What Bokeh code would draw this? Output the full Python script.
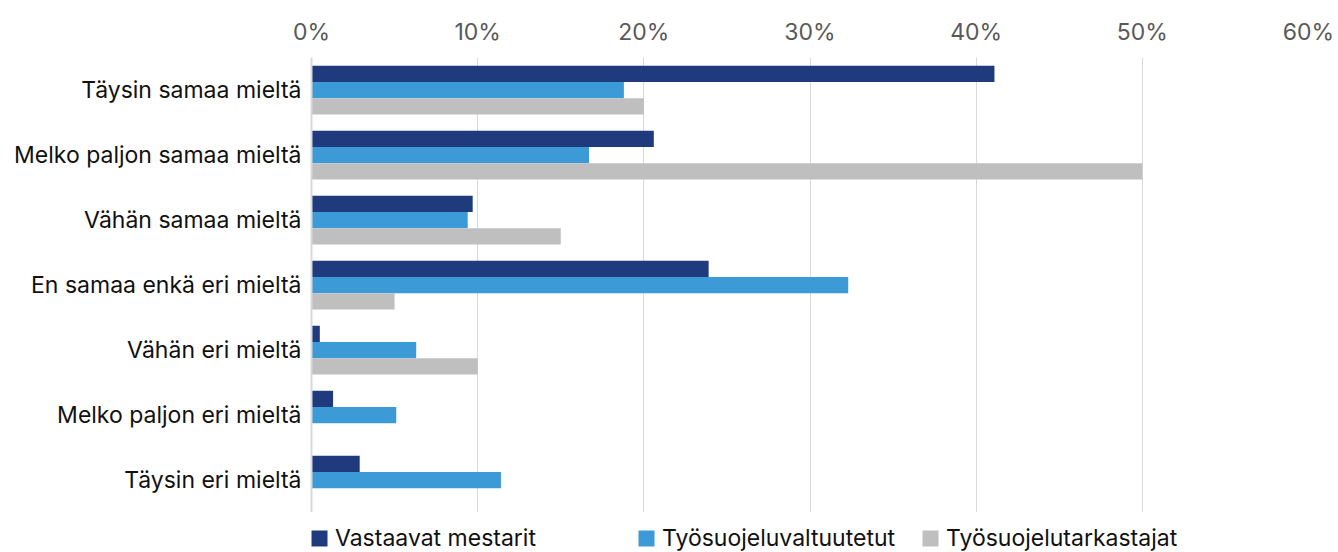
from bokeh.plotting import figure
from bokeh.layouts import column
from bokeh.models import FactorRange, Range1d, FixedTicker, PrintfTickFormatter, Legend, LegendItem, ColumnDataSource
from bokeh.transform import dodge
from bokeh.embed import file_html
from bokeh.resources import INLINE

categories = ["Täysin samaa mieltä", "Melko paljon samaa mieltä", "Vähän samaa mieltä",
              "En samaa enkä eri mieltä", "Vähän eri mieltä", "Melko paljon eri mieltä",
              "Täysin eri mieltä"]
vastaavat_mestarit = [41.1, 20.6, 9.7, 23.9, 0.5, 1.3, 2.9]
tyosuojeluvaltuutetut = [18.8, 16.7, 9.4, 32.3, 6.3, 5.1, 11.4]
tyosuojelutarkastajat = [20.0, 50.0, 15.0, 5.0, 10.0, 0.0, 0.0]
series_names = ["Vastaavat mestarit", "Työsuojeluvaltuutetut", "Työsuojelutarkastajat"]
colors = ["#1F3B7D", "#3C9BD7", "#BFBFBF"]
x_ticks = [0, 10, 20, 30, 40, 50, 60]

FONT = "Inter"
FS = "23px"

source = ColumnDataSource(dict(cat=categories,
                               s0=vastaavat_mestarit,
                               s1=tyosuojeluvaltuutetut,
                               s2=tyosuojelutarkastajat))
keys = ["s0", "s1", "s2"]

p = figure(width=1338, height=512,
           x_range=Range1d(0, 60),
           y_range=FactorRange(factors=list(reversed(categories))),
           x_axis_location="above",
           output_backend="svg", toolbar_location=None,
           min_border_left=311, min_border_right=30,
           min_border_top=57, min_border_bottom=0)

offsets = [0.25, 0.0, -0.25]
for i, key in enumerate(keys):
    p.hbar(y=dodge("cat", offsets[i], range=p.y_range), right=key, left=0,
           height=0.25, source=source, fill_color=colors[i], line_color=None)

p.outline_line_color = None
p.background_fill_color = "white"
p.border_fill_color = "white"

xa = p.xaxis[0]
xa.ticker = FixedTicker(ticks=x_ticks)
xa.formatter = PrintfTickFormatter(format="%d%%")
xa.axis_line_color = None
xa.major_tick_line_color = None
xa.minor_tick_line_color = None
xa.major_label_text_font = FONT
xa.major_label_text_font_size = FS
xa.major_label_text_color = "#595959"
xa.major_label_standoff = 6

ya = p.yaxis[0]
ya.axis_line_color = "#d9d9d9"
ya.axis_line_width = 2
ya.major_tick_line_color = None
ya.minor_tick_line_color = None
ya.major_label_text_font = FONT
ya.major_label_text_font_size = FS
ya.major_label_text_color = "#111111"
ya.major_label_standoff = 4

p.xgrid.grid_line_color = "#d9d9d9"
p.xgrid.grid_line_width = 1
p.ygrid.grid_line_color = None

# legend strip below the chart (its frame is aligned with the chart's frame);
# its bars have zero height, they only provide the legend swatches
q = figure(width=1338, height=40, x_range=Range1d(-2, -1),
           y_range=FactorRange(factors=list(reversed(categories))),
           x_axis_type=None, y_axis_type=None,
           output_backend="svg", toolbar_location=None,
           min_border_left=311, min_border_right=30, min_border_top=0, min_border_bottom=0)
q.outline_line_color = None
q.xgrid.grid_line_color = None
q.ygrid.grid_line_color = None
q.border_fill_color = "white"

leg_x = [-2, 325, 609]
for i, key in enumerate(keys):
    r = q.hbar(y="cat", right=key, left=0, height=0, source=source,
               fill_color=colors[i], line_color=None)
    lg = Legend(items=[LegendItem(label=series_names[i], renderers=[r])],
                location=(leg_x[i], 0),
                glyph_width=20, glyph_height=20, label_standoff=6,
                padding=0, margin=0, border_line_color=None,
                background_fill_alpha=0,
                label_text_font=FONT, label_text_font_size=FS,
                label_text_color="#111111")
    q.add_layout(lg, "center")

layout = column(p, q, spacing=0)
open("out.html", "w").write(file_html(layout, INLINE))
